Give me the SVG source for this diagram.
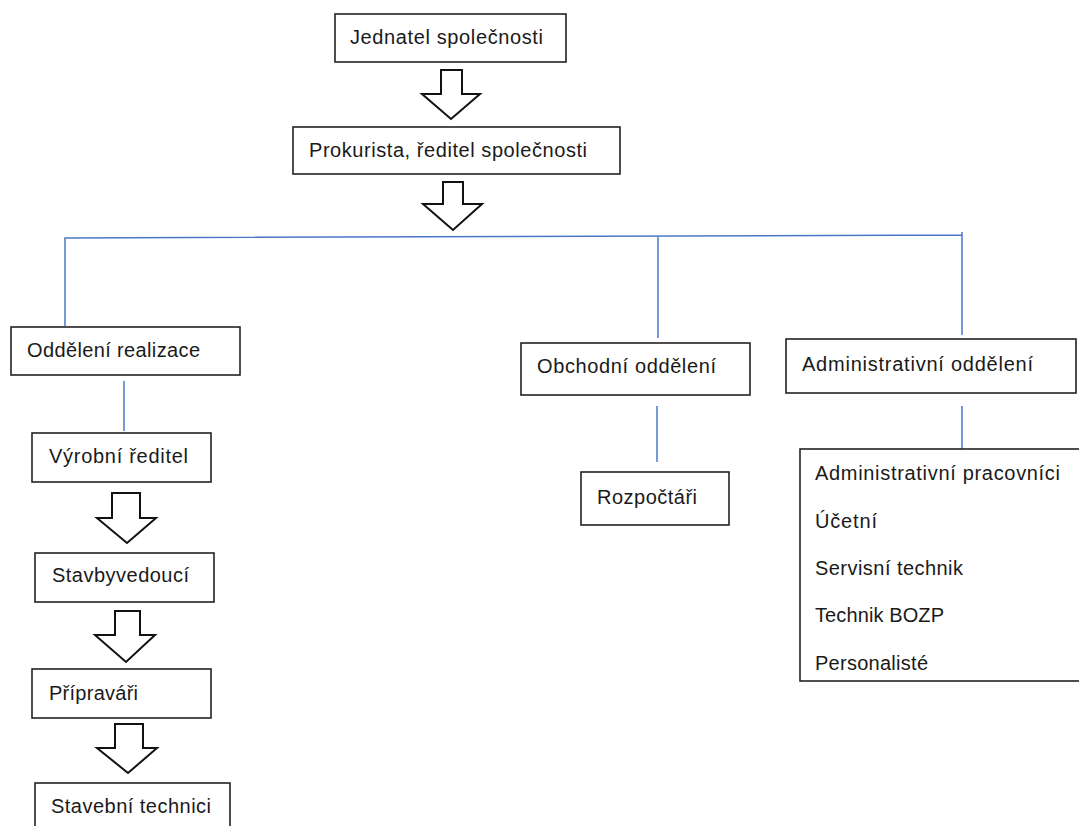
<svg xmlns="http://www.w3.org/2000/svg" width="1079" height="826" viewBox="0 0 1079 826">
<style>
.box{fill:#fff;stroke:#222;stroke-width:1.6}
.arr{fill:#fff;stroke:#111;stroke-width:2;stroke-linejoin:miter}
.ln{stroke:#4a78c8;stroke-width:1.5;fill:none}
text{font-family:"Liberation Sans",Arial,sans-serif;font-size:20px;fill:#1a1a1a}
</style>
<rect width="1079" height="826" fill="#fff"/>
<g id="connectors">
<path class="ln" d="M65,326 V238 L962,235 M962,232 V335"/>
<path class="ln" d="M658,237 V338"/>
<path class="ln" d="M124,381 V431"/>
<path class="ln" d="M657,406 V462"/>
<path class="ln" d="M962,406 V462"/>
<polygon class="arr" points="441,70 462,70 462,94 480,94 451,119 422,94 441,94"/>
<polygon class="arr" points="443,182 463,182 463,204 482,204 453,230 423,204 443,204"/>
<polygon class="arr" points="112,493 140,493 140,518 156,518 127,543 97,518 112,518"/>
<polygon class="arr" points="115,611 140,611 140,635 155,635 126,662 95,635 115,635"/>
<polygon class="arr" points="115,724 143,724 143,748 157,748 128,773 97,748 115,748"/>
</g>
<g id="n-jednatel"><rect class="box" x="335" y="14" width="231" height="48"/><text x="350" y="44" textLength="193">Jednatel společnosti</text></g>
<g id="n-prokurista"><rect class="box" x="293" y="127" width="327" height="47"/><text x="309" y="157" textLength="278">Prokurista, ředitel společnosti</text></g>
<g id="n-realizace"><rect class="box" x="11" y="327" width="229" height="48"/><text x="27" y="357" textLength="173">Oddělení realizace</text></g>
<g id="n-obchodni"><rect class="box" x="521" y="343" width="229" height="52"/><text x="537" y="373" textLength="179">Obchodní oddělení</text></g>
<g id="n-admin"><rect class="box" x="786" y="339" width="290" height="54"/><text x="802" y="371" textLength="231">Administrativní oddělení</text></g>
<g id="n-vyrobni"><rect class="box" x="32" y="433" width="179" height="49"/><text x="49" y="463" textLength="139">Výrobní ředitel</text></g>
<g id="n-rozpoctari"><rect class="box" x="581" y="472" width="148" height="53"/><text x="597" y="504" textLength="100">Rozpočtáři</text></g>
<g id="n-stavbyvedouci"><rect class="box" x="35" y="553" width="179" height="49"/><text x="52" y="582" textLength="137">Stavbyvedoucí</text></g>
<g id="n-pripravari"><rect class="box" x="32" y="669" width="179" height="49"/><text x="49" y="700" textLength="89">Přípraváři</text></g>
<g id="n-technici"><rect class="box" x="35" y="783" width="195" height="60"/><text x="51" y="813" textLength="160">Stavební technici</text></g>
<g id="n-admin-staff"><rect class="box" x="800" y="449" width="300" height="232"/>
<text x="815" y="480" textLength="245">Administrativní pracovníci</text>
<text x="815" y="528" textLength="62">Účetní</text>
<text x="815" y="575" textLength="148">Servisní technik</text>
<text x="815" y="622" textLength="129">Technik BOZP</text>
<text x="815" y="670" textLength="113">Personalisté</text>
</g>
</svg>
